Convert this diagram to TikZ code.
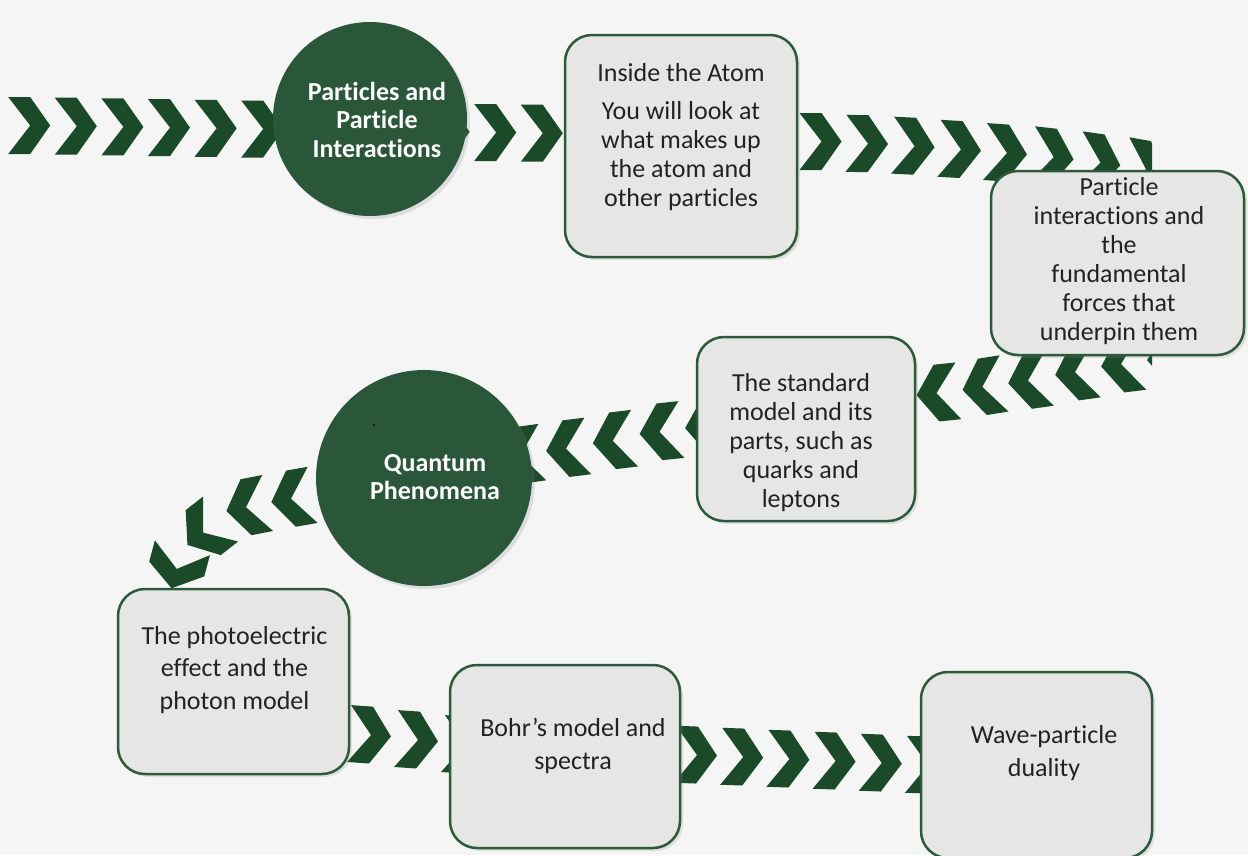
\documentclass[tikz,border=0pt]{standalone}
\usepackage{fontspec}
\setmainfont{Carlito}[Ligatures=NoCommon]
\usetikzlibrary{shadows}
\definecolor{chevc}{HTML}{1B4A29}
\definecolor{circc}{HTML}{2A5739}
\definecolor{boxline}{HTML}{2D5A3B}
\definecolor{boxfill}{HTML}{E6E6E6}
\definecolor{bgc}{HTML}{F5F5F5}
\definecolor{txtc}{HTML}{222222}
\newcommand\chev[3]{\fill[chevc, shift={(#1,#2)}, rotate=#3] (-21,-28.5) -- (1,-28.5) -- (21,0) -- (1,28.5) -- (-21,28.5) -- (1,0) -- cycle;}
\tikzset{
  box/.style={draw=boxline, fill=boxfill, line width=2.5pt, rounded corners=27pt, inner sep=0pt, outer sep=0pt,
    drop shadow={opacity=0.18, shadow xshift=3pt, shadow yshift=-3pt}},
  circ/.style={circle, fill=circc, inner sep=0pt, outer sep=0pt,
    drop shadow={opacity=0.2, shadow xshift=3pt, shadow yshift=-3pt}},
  btxt/.style={align=center, text=txtc, inner sep=0pt, font=\fontsize{26}{29}\selectfont},
  btxtw/.style={align=center, text=txtc, inner sep=0pt, font=\fontsize{26}{32.3}\selectfont},
  ctxt/.style={align=center, text=white, inner sep=0pt, font=\fontsize{26}{28.5}\selectfont\bfseries}
}
\begin{document}
\begin{tikzpicture}[x=1pt, y=-1pt]
\clip (0,0) rectangle (1248,855);
\fill[bgc] (0,0) rectangle (1248,855);

% row 1
\foreach \i in {0,...,11}{
  \pgfmathsetmacro\cx{29.2+46.6*\i}
  \pgfmathsetmacro\cy{125.5+0.7*\i}
  \chev{\cx}{\cy}{0}
}
% rows 2 and 3, clipped at the right
\begin{scope}
\clip (0,0) rectangle (1152,855);
\chev{820.5}{141.5}{0}
\chev{867}{143.7}{-1}
\chev{913.6}{146.2}{-3}
\chev{960}{149.5}{-3.3}
\chev{1006}{153}{-4}
\chev{1052.7}{157}{-6.5}
\chev{1099.5}{162.5}{-8}
\chev{1145}{169}{-10}
% row 3
\chev{1168}{358}{186}
\chev{1122}{364}{187}
\chev{1076}{372}{188}
\chev{1029}{380.4}{188}
\chev{983.3}{386.7}{189}
\chev{937.5}{393}{186}
\end{scope}
% row 4
\chev{706}{426}{186}
\chev{660.5}{431.7}{186}
\chev{613.7}{440.7}{187}
\chev{567}{448.5}{187}
\chev{521.5}{455}{188}
% row 5
\chev{292}{498.5}{190}
\chev{247}{507}{191}
\chev{204}{532}{218}
\chev{177}{568}{255}
% row 6
\chev{370}{735}{-4}
\chev{417}{740}{-4}
\chev{464}{745}{-4}
% row 7
\foreach \i in {0,...,5}{
  \pgfmathsetmacro\cx{696+46.2*\i}
  \pgfmathsetmacro\cy{755+2*\i}
  \chev{\cx}{\cy}{-2}
}

% circles
\node[circ, minimum size=194pt] (c1) at (370,119) {};
\node[ctxt] (c1t) at (377,119.5) {Particles and\\Particle\\Interactions};
\node[circ, minimum size=216pt] (c2) at (424,478) {};
\node[ctxt] (c2t) at (435,477) {Quantum\\Phenomena};
\node[text=black, inner sep=0pt, font=\fontsize{16}{16}\selectfont] (tick) at (374,430) {\textasciigrave};

% boxes
\node[box, minimum width=232pt, minimum height=222pt] (b1) at (681,146) {};
\node[btxt] (b1h) at (681,73) {Inside the Atom};
\node[btxt] (b1t) at (681,156) {You will look at\\what makes up\\the atom and\\other particles};

\node[box, minimum width=253pt, minimum height=184pt] (b2) at (1117.5,263) {};
\node[btxt] (b2t) at (1119,261.5) {Particle\\interactions and\\the\\fundamental\\forces that\\underpin them};

\node[box, minimum width=218pt, minimum height=184pt] (b3) at (806,429) {};
\node[btxt] (b3t) at (801,443) {The standard\\model and its\\parts, such as\\quarks and\\leptons};

\node[box, minimum width=231pt, minimum height=185pt] (b4) at (233.5,681.5) {};
\node[btxtw] (b4t) at (234.5,670) {The photoelectric\\effect and the\\photon model};

\node[box, minimum width=230pt, minimum height=183pt] (b5) at (565,756.5) {};
\node[btxtw] (b5t) at (573,746) {Bohr’s model and\\spectra};

\node[box, minimum width=231pt, minimum height=186pt] (b6) at (1036.5,765) {};
\node[btxtw] (b6t) at (1044,753) {Wave-particle\\duality};
\end{tikzpicture}
\end{document}
